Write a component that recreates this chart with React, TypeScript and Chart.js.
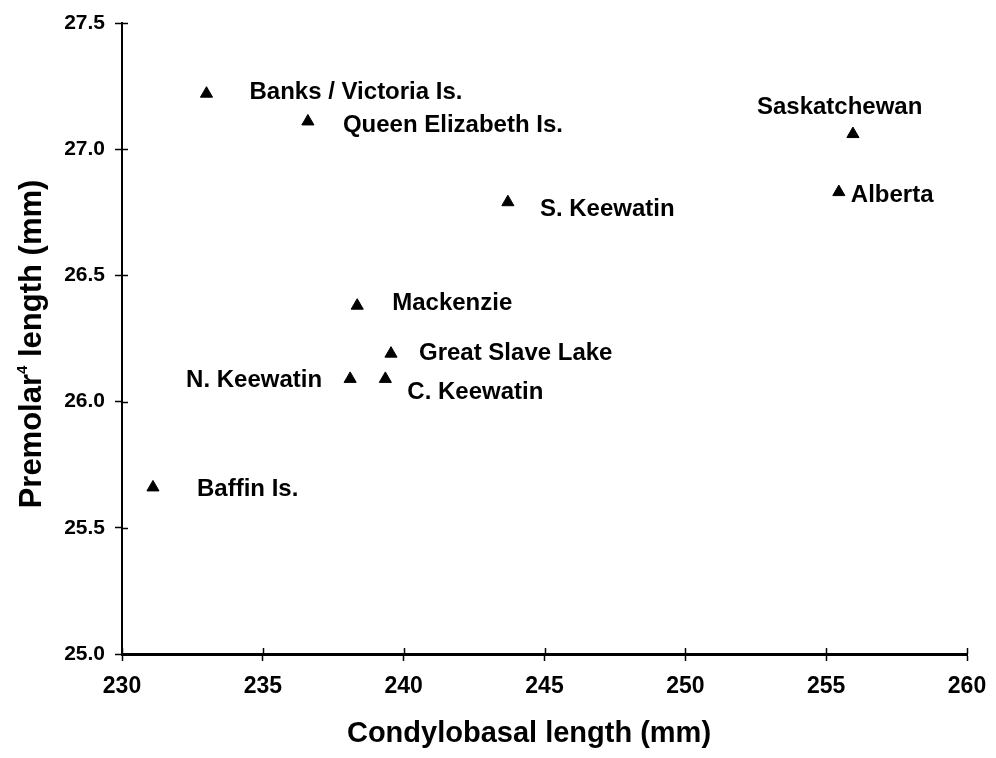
import React, { useEffect, useRef } from "react";
import { Chart, registerables } from "chart.js";

Chart.register(...registerables);

// ---- data ----
const regions = [
  "Banks / Victoria Is.",
  "Queen Elizabeth Is.",
  "Saskatchewan",
  "Alberta",
  "S. Keewatin",
  "Mackenzie",
  "Great Slave Lake",
  "N. Keewatin",
  "C. Keewatin",
  "Baffin Is.",
];
const condylobasalLength = [233.0, 236.6, 255.95, 255.45, 243.7, 238.35, 239.55, 238.1, 239.35, 231.1];
const premolarLength = [27.22, 27.11, 27.06, 26.83, 26.79, 26.38, 26.19, 26.09, 26.09, 25.66];
const xTickValues = [230, 235, 240, 245, 250, 255, 260];
const yTickValues = [25.0, 25.5, 26.0, 26.5, 27.0, 27.5];
const xTitle = "Condylobasal length (mm)";
const yTitleParts = ["Premolar", "4", " length (mm)"];

// ---- label placement (pixel offsets from the marker) ----
const labelPlacement: Record<string, { dx: number; dy: number; align: CanvasTextAlign }> = {
  "Banks / Victoria Is.": { dx: 43, dy: -1, align: "left" },
  "Queen Elizabeth Is.": { dx: 35, dy: 4, align: "left" },
  "Saskatchewan": { dx: -96, dy: -27, align: "left" },
  "Alberta": { dx: 12, dy: 3, align: "left" },
  "S. Keewatin": { dx: 32, dy: 7, align: "left" },
  "Mackenzie": { dx: 35, dy: -2, align: "left" },
  "Great Slave Lake": { dx: 28, dy: 0, align: "left" },
  "N. Keewatin": { dx: -28, dy: 1, align: "right" },
  "C. Keewatin": { dx: 22, dy: 13, align: "left" },
  "Baffin Is.": { dx: 44, dy: 2, align: "left" },
};

const FONT = '"Liberation Sans", Arial, Helvetica, sans-serif';

const decorPlugin = {
  id: "decor",
  afterDraw(chart: any) {
    const ctx = chart.ctx as CanvasRenderingContext2D;
    const xs = chart.scales.x;
    const ys = chart.scales.y;
    const area = chart.chartArea;
    ctx.save();
    // inner tick marks
    ctx.strokeStyle = "#000";
    ctx.lineWidth = 1.5;
    xTickValues.forEach((v) => {
      const px = Math.round(xs.getPixelForValue(v)) + 0.5;
      ctx.beginPath();
      ctx.moveTo(px, area.bottom);
      ctx.lineTo(px, area.bottom - 6);
      ctx.stroke();
    });
    yTickValues.forEach((v) => {
      const py = Math.round(ys.getPixelForValue(v)) + 0.5;
      ctx.beginPath();
      ctx.moveTo(area.left, py);
      ctx.lineTo(area.left + 6, py);
      ctx.stroke();
    });
    // point labels
    const meta = chart.getDatasetMeta(0);
    ctx.fillStyle = "#000";
    ctx.font = `bold 24px ${FONT}`;
    ctx.textBaseline = "middle";
    meta.data.forEach((el: any, i: number) => {
      const name = regions[i];
      const p = labelPlacement[name];
      ctx.textAlign = p.align;
      ctx.fillText(name, el.x + p.dx, el.y + p.dy);
    });
    // x axis title
    ctx.font = `bold 29px ${FONT}`;
    ctx.textAlign = "center";
    ctx.textBaseline = "middle";
    ctx.fillText(xTitle, 529, 734);
    // y axis title with superscript
    const bigFont = `bold 31px ${FONT}`;
    const smallFont = `bold 15px ${FONT}`;
    ctx.font = bigFont;
    const w0 = ctx.measureText(yTitleParts[0]).width;
    const w2 = ctx.measureText(yTitleParts[2]).width;
    ctx.font = smallFont;
    const w1 = ctx.measureText(yTitleParts[1]).width;
    const total = w0 + w1 + w2;
    ctx.translate(30, 344);
    ctx.rotate(-Math.PI / 2);
    ctx.textAlign = "left";
    ctx.textBaseline = "alphabetic";
    let cx = -total / 2;
    const base = 11;
    ctx.font = bigFont;
    ctx.fillText(yTitleParts[0], cx, base);
    cx += w0;
    ctx.font = smallFont;
    ctx.fillText(yTitleParts[1], cx, base - 14);
    cx += w1;
    ctx.font = bigFont;
    ctx.fillText(yTitleParts[2], cx, base);
    ctx.restore();
  },
};

export default function App() {
  const canvasRef = useRef<HTMLCanvasElement | null>(null);

  useEffect(() => {
    document.body.style.margin = "0";
    const canvas = canvasRef.current!;
    const chart = new Chart(canvas, {
      type: "scatter",
      data: {
        datasets: [
          {
            label: "Regions",
            data: condylobasalLength.map((x, i) => ({ x, y: premolarLength[i] })),
            pointStyle: "triangle",
            pointRadius: 7,
            pointBackgroundColor: "#000",
            pointBorderColor: "#000",
            pointBorderWidth: 1,
          },
        ],
      },
      plugins: [decorPlugin],
      options: {
        animation: false,
        responsive: false,
        devicePixelRatio: 1,
        layout: { padding: { left: 0, right: 29, top: 23, bottom: 0 } },
        plugins: { legend: { display: false }, tooltip: { enabled: false } },
        scales: {
          x: {
            type: "linear",
            min: 230,
            max: 260,
            afterBuildTicks: (s: any) => {
              s.ticks = xTickValues.map((v) => ({ value: v }));
            },
            afterFit: (s: any) => {
              s.height = 104;
              s.paddingLeft = 0;
              s.paddingRight = 0;
            },
            ticks: {
              color: "#000",
              font: { family: FONT, size: 23, weight: "bold" },
              padding: 12,
              maxRotation: 0,
              callback: (v: any) => String(v),
            },
            grid: {
              drawOnChartArea: false,
              drawTicks: true,
              tickLength: 7,
              tickColor: "#000",
              tickWidth: 1.5,
            },
            border: { display: true, color: "#000", width: 3 },
          },
          y: {
            type: "linear",
            min: 25,
            max: 27.5,
            afterBuildTicks: (s: any) => {
              s.ticks = yTickValues.map((v) => ({ value: v }));
            },
            afterFit: (s: any) => {
              s.width = 122;
              s.paddingTop = 0;
              s.paddingBottom = 0;
            },
            ticks: {
              color: "#000",
              font: { family: FONT, size: 21, weight: "bold" },
              padding: 10,
              callback: (v: any) => Number(v).toFixed(1),
            },
            grid: {
              drawOnChartArea: false,
              drawTicks: true,
              tickLength: 7,
              tickColor: "#000",
              tickWidth: 1.5,
            },
            border: { display: true, color: "#000", width: 2 },
          },
        },
      },
    });
    return () => chart.destroy();
  }, []);

  return (
    <div style={{ position: "absolute", left: 0, top: 0, width: 996, height: 758, background: "#fff" }}>
      <canvas ref={canvasRef} width={996} height={758} style={{ width: 996, height: 758 }} />
    </div>
  );
}
